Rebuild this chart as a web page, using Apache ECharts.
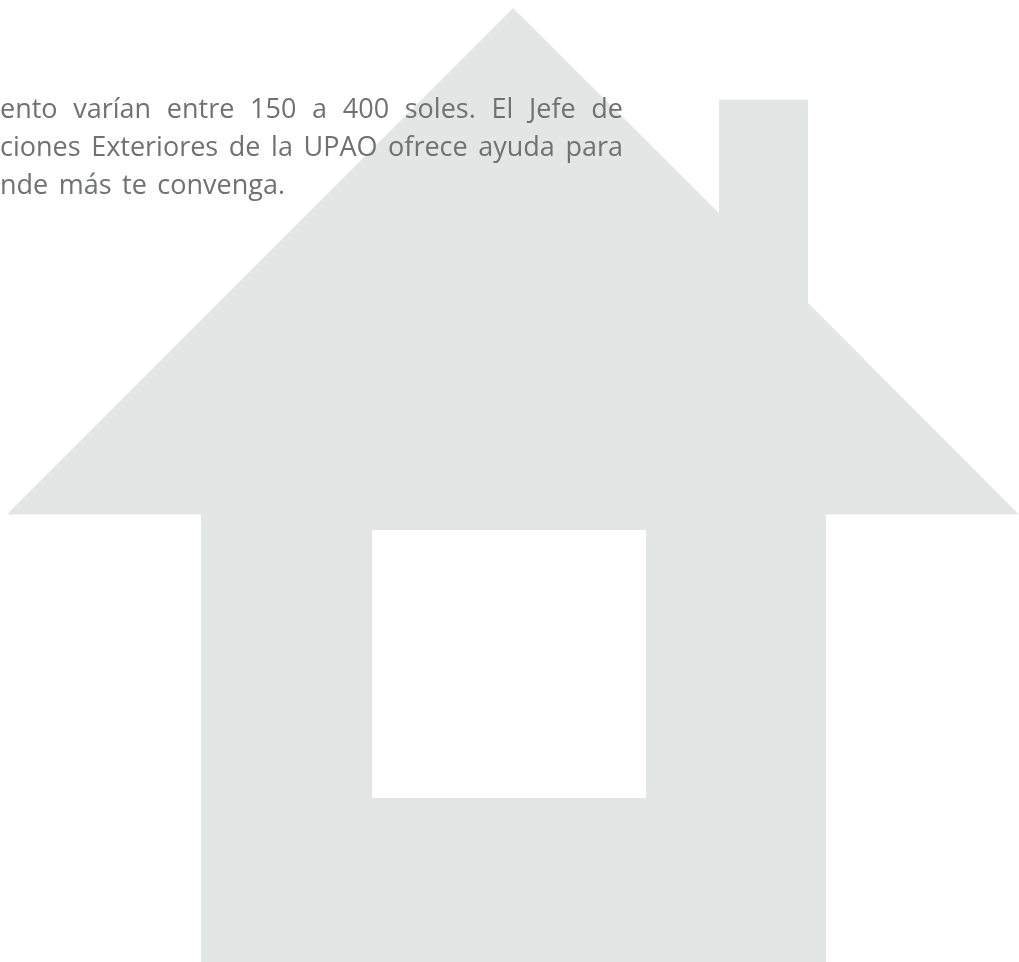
<!DOCTYPE html>
<html><head><meta charset="utf-8">
<style>html,body{margin:0;padding:0;background:#fff}#c{width:1019px;height:962px}</style>
<script src="https://cdn.jsdelivr.net/npm/echarts@6/dist/echarts.min.js"></script>
</head><body><div id="c"></div>
<script>
const houseX = [513, 719, 719, 808, 808, 1019, 826, 826, 201, 201, 7];
const houseY = [8, 213, 99.5, 99.5, 303, 514.5, 514.5, 962, 962, 514.5, 514.5];
const windowX = [372, 646, 646, 372];
const windowY = [530, 530, 798, 798];
const lines = [
  "ento varían entre 150 a 400 soles. El Jefe de",
  "ciones Exteriores de la UPAO ofrece ayuda para",
  "nde más te convenga."
];
const lineBaselines = [116, 154, 192];
const lineRight = [623, 623, 285];
const FONT_SIZE = 27;
const DESCENT = 7.5;
const FONT = '400 ' + FONT_SIZE + 'px "Open Sans"';
const TEXT = '#6f7271';
const ctx = document.createElement('canvas').getContext('2d');
ctx.font = FONT;
const words = [];
lines.forEach((l, i) => {
  const w = l.split(' ');
  const widths = w.map(s => ctx.measureText(s).width);
  const total = widths.reduce((a, b) => a + b, 0);
  const gap = (lineRight[i] - total) / (w.length - 1);
  let x = 0;
  w.forEach((s, k) => { words.push([x, lineBaselines[i], s]); x += widths[k] + gap; });
});
function poly(xs, ys, color, z) {
  return {
    type: 'custom', coordinateSystem: 'cartesian2d', silent: true, z,
    data: xs.map((x, i) => [x, ys[i]]),
    renderItem(p, api) {
      if (p.dataIndex !== 0) return null;
      return { type: 'polygon', shape: { points: xs.map((x, i) => api.coord([x, ys[i]])) }, style: { fill: color } };
    }
  };
}
const chart = echarts.init(document.getElementById('c'), null, { renderer: 'canvas' });
chart.setOption({
  animation: false,
  backgroundColor: '#ffffff',
  grid: { left: 0, right: 0, top: 0, bottom: 0 },
  xAxis: { type: 'value', min: 0, max: 1019, show: false },
  yAxis: { type: 'value', min: 0, max: 962, inverse: true, show: false },
  series: [
    poly(houseX, houseY, '#e4e6e5', 1),
    poly(windowX, windowY, '#ffffff', 2),
    {
      type: 'custom', coordinateSystem: 'cartesian2d', silent: true, z: 3, clip: false,
      data: words,
      encode: { x: 0, y: 1 },
      renderItem(p, api) {
        const c = api.coord([api.value(0), api.value(1)]);
        return { type: 'text', x: c[0], y: c[1] + DESCENT, style: { text: words[p.dataIndex][2], font: FONT, fill: TEXT, textAlign: 'left', verticalAlign: 'bottom' } };
      }
    }
  ]
});
</script></body></html>
